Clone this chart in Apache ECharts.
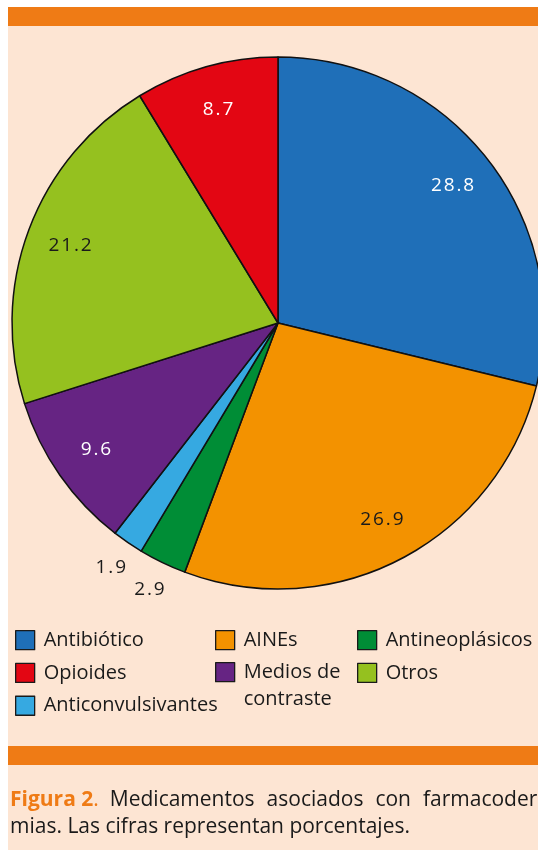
<!DOCTYPE html>
<html>
<head>
<meta charset="utf-8">
<script src="https://cdn.jsdelivr.net/npm/echarts@6/dist/echarts.min.js"></script>
<style>
html,body{margin:0;padding:0;background:#fff;}
#c{width:538px;height:850px;}
</style>
</head>
<body>
<div id="c"></div>
<script>
// Data (clockwise from 12 o'clock)
const categories = ['Antibiótico', 'AINEs', 'Antineoplásicos', 'Anticonvulsivantes', 'Medios de contraste', 'Otros', 'Opioides'];
const values = [28.8, 26.9, 2.9, 1.9, 9.6, 21.2, 8.7];
const colors = ['#1F6FB8', '#F39200', '#008D36', '#36A9E1', '#662483', '#95C11F', '#E30613'];
const labelColors = ['#ffffff', '#1a1a1a', '#1a1a1a', '#1a1a1a', '#ffffff', '#1a1a1a', '#ffffff'];
const outsideLabels = ['Antineoplásicos', 'Anticonvulsivantes'];
// Legend columns
const legendCol1 = ['Antibiótico', 'Opioides', 'Anticonvulsivantes'];
const legendCol2 = ['AINEs'];
const legendCol2b = ['Medios de contraste'];
const legendCol3 = ['Antineoplásicos', 'Otros'];
const captionHead = 'Figura 2';
const captionLine1 = ['Medicamentos', 'asociados', 'con', 'farmacoder-'];
const captionLine2 = 'mias. Las cifras representan porcentajes.';

const FONT = 'Open Sans';
const CX = 278, CY = 323, R = 266;

const mainData = categories.map((n, i) => ({
  name: n, value: values[i],
  itemStyle: { color: colors[i] }
}));
const insideData = categories.map((n, i) => ({
  name: n, value: values[i],
  label: { show: outsideLabels.indexOf(n) < 0, color: labelColors[i] }
}));
const outsideData = categories.map((n, i) => ({
  name: n, value: values[i],
  label: { show: outsideLabels.indexOf(n) >= 0, color: '#1a1a1a' }
}));

function legendFor(names, left, top, multi) {
  return {
    orient: 'vertical',
    left: left, top: top,
    padding: 0,
    itemWidth: 19, itemHeight: 19,
    itemGap: 12.5,
    selectedMode: false,
    icon: 'rect',
    itemStyle: { borderColor: '#1a1a1a', borderWidth: 1.3 },
    textStyle: multi
      ? { fontFamily: FONT, fontSize: 20, color: '#1a1a1a', padding: [27, 0, 0, 4],
          rich: { m: { fontFamily: FONT, fontSize: 20, color: '#1a1a1a', lineHeight: 27 } } }
      : { fontFamily: FONT, fontSize: 20, color: '#1a1a1a', padding: [0, 0, 0, 4], lineHeight: 19 },
    formatter: multi ? function (n) {
      const w = n.split(' ');
      return '{m|' + w.slice(0, 2).join(' ') + '}\n{m|' + w.slice(2).join(' ') + '}';
    } : '{name}',
    data: names
  };
}

const chart = echarts.init(document.getElementById('c'), null, { renderer: 'canvas' });
chart.setOption({
  animation: false,
  backgroundColor: '#ffffff',
  graphic: [
    { type: 'rect', z: -10, silent: true, shape: { x: 8, y: 7, width: 530, height: 843 }, style: { fill: '#FDE5D3' } },
    { type: 'rect', z: -9, silent: true, shape: { x: 8, y: 7, width: 530, height: 19 }, style: { fill: '#EF7B15' } },
    { type: 'rect', z: -9, silent: true, shape: { x: 8, y: 746, width: 530, height: 19 }, style: { fill: '#EF7B15' } },
    {
      type: 'text', z: 10, silent: true, left: 10, top: 790,
      style: {
        text: '{h|' + captionHead + '}{o|.}{g0| }' +
          captionLine1.map(w => '{t|' + w + '}').join('{g| }') +
          '\n{t|' + captionLine2 + '}',
        rich: {
          h: { fontFamily: FONT, fontSize: 21, fontWeight: 'bold', fill: '#EF7B15', lineHeight: 27 },
          o: { fontFamily: FONT, fontSize: 21, fill: '#EF7B15', lineHeight: 27 },
          t: { fontFamily: FONT, fontSize: 21, fill: '#1a1a1a', lineHeight: 27 },
          g0: { fontFamily: FONT, fontSize: 21, width: 11, lineHeight: 27 },
          g: { fontFamily: FONT, fontSize: 21, width: 12, lineHeight: 27 }
        }
      }
    }
  ],
  legend: [
    legendFor(legendCol1, 15, 630, false),
    legendFor(legendCol2, 215, 630, false),
    legendFor(legendCol2b, 215, 662, true),
    legendFor(legendCol3, 357, 630, false)
  ],
  series: [
    {
      type: 'pie', center: [CX, CY], radius: [0, R],
      startAngle: 90, clockwise: true, silent: true,
      itemStyle: { borderColor: '#111', borderWidth: 1.5 },
      label: { show: false }, labelLine: { show: false },
      data: mainData
    },
    {
      type: 'pie', center: [CX, CY], radius: [172, R],
      startAngle: 90, clockwise: true, silent: true, legendHoverLink: false,
      itemStyle: { color: 'transparent', borderWidth: 0 },
      label: { position: 'inside', fontFamily: FONT, fontSize: 19, formatter: p => p.value.toFixed(1).split('').join('\u200A') },
      labelLine: { show: false },
      data: insideData
    },
    {
      type: 'pie', center: [CX, CY], radius: [R, 320],
      startAngle: 90, clockwise: true, silent: true, legendHoverLink: false,
      itemStyle: { color: 'transparent', borderWidth: 0 },
      label: { position: 'inside', fontFamily: FONT, fontSize: 19, formatter: p => p.value.toFixed(1).split('').join('\u200A') },
      labelLine: { show: false },
      data: outsideData
    }
  ]
});
</script>
</body>
</html>
